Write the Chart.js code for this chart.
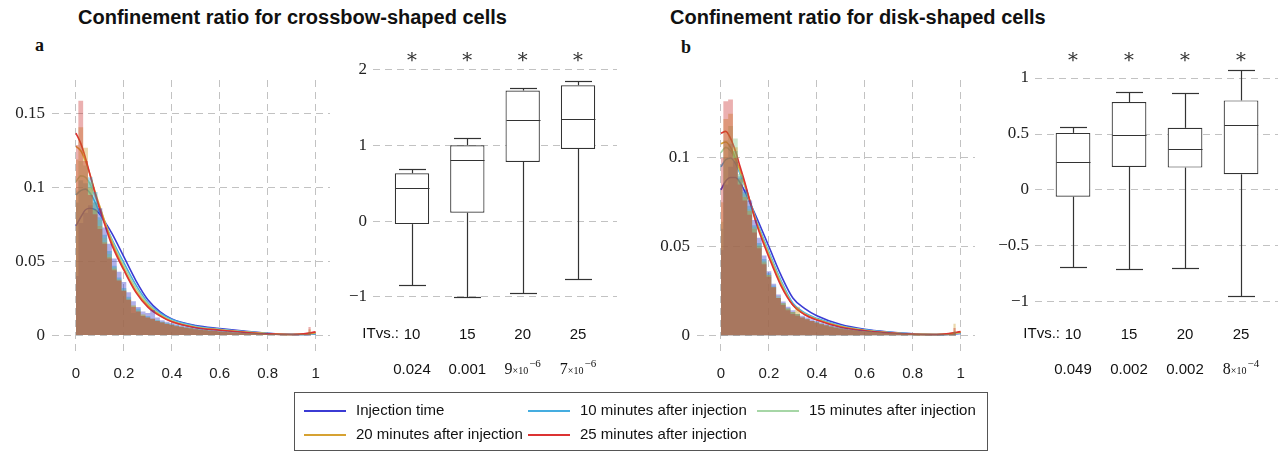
<!DOCTYPE html>
<html>
<head>
<meta charset="utf-8">
<script src="https://cdn.jsdelivr.net/npm/chart.js@4.4.0/dist/chart.umd.min.js"></script>
<style>
  body { margin: 0; background: #fff; width: 1278px; height: 453px; position: relative; overflow: hidden;
         font-family: "Liberation Sans", Arial, sans-serif; color: #111; }
  canvas { position: absolute; }
  .title { position: absolute; top: 5px; font-weight: bold; font-size: 20px; line-height: 25px; white-space: nowrap; }
  .tag { position: absolute; font-family: "Liberation Serif", serif; font-weight: bold; font-size: 18px; }
  #legend { position: absolute; left: 294px; top: 392px; width: 694px; height: 59px;
            border: 1px solid #555; box-sizing: border-box; }
  .item { position: absolute; font-size: 15px; line-height: 18px; white-space: nowrap; }
  .item i { display: inline-block; width: 42px; height: 2px; vertical-align: middle; margin-right: 10px; }
</style>
</head>
<body>
<div class="title" style="left:78px">Confinement ratio for crossbow-shaped cells</div>
<div class="title" style="left:670px">Confinement ratio for disk-shaped cells</div>
<div class="tag" style="left:35px;top:35px">a</div>
<div class="tag" style="left:681px;top:37px">b</div>

<canvas id="histA" width="335" height="400" style="left:0;top:0"></canvas>
<canvas id="boxA" width="290" height="400" style="left:335px;top:0"></canvas>
<canvas id="histB" width="340" height="400" style="left:640px;top:0"></canvas>
<canvas id="boxB" width="298" height="400" style="left:980px;top:0"></canvas>
<div id="legend"></div>

<script>
// ---- series ----
const seriesNames = ['Injection time', '10 minutes after injection', '15 minutes after injection',
                     '20 minutes after injection', '25 minutes after injection'];
const seriesColors = ['#3b3bd4', '#45ade0', '#a6d6a6', '#d6a232', '#dc3232'];
// darker shades used for the translucent histogram fills
const fillColors = ['#2828c8', '#1e96c8', '#78be78', '#c8961e', '#c82828'];

// ---- histogram bins (bin centres) and tick values ----
const binCenters = [0, 0.02, 0.04, 0.06, 0.08, 0.1, 0.12, 0.14, 0.16, 0.18, 0.2, 0.22, 0.24, 0.26, 0.28,
  0.3, 0.32, 0.34, 0.36, 0.38, 0.4, 0.42, 0.44, 0.46, 0.48, 0.5, 0.52, 0.54, 0.56, 0.58, 0.6, 0.62, 0.64,
  0.66, 0.68, 0.7, 0.72, 0.74, 0.76, 0.78, 0.8, 0.82, 0.84, 0.86, 0.88, 0.9, 0.92, 0.94, 0.96, 0.98];
const histXTicks = [0, 0.2, 0.4, 0.6, 0.8, 1];
const histAYTicks = [0, 0.05, 0.1, 0.15];
const histBYTicks = [0, 0.05, 0.1];

// crossbow-shaped cells: histograms
const histA_IT = [0.040, 0.076, 0.083, 0.088, 0.090, 0.086, 0.073, 0.062, 0.052, 0.043, 0.036, 0.029, 0.023, 0.019, 0.016, 0.015, 0.017, 0.012, 0.010, 0.009,
  0.0082, 0.0074, 0.0067, 0.006, 0.0054, 0.0049, 0.0044, 0.004, 0.0036, 0.0033, 0.003, 0.0027, 0.0025, 0.0022, 0.002, 0.0018, 0.0016, 0.0014, 0.0013, 0.0011,
  0.001, 0.0009, 0.0008, 0.0007, 0.0006, 0.0005, 0.0005, 0.0004, 0.0004, 0.001];
const histA_10 = [0.090, 0.105, 0.103, 0.107, 0.097, 0.080, 0.068, 0.057, 0.047, 0.039, 0.032, 0.026, 0.015, 0.018, 0.013, 0.013, 0.011, 0.010, 0.009, 0.008,
  0.0074, 0.0066, 0.0059, 0.0053, 0.0048, 0.0043, 0.0039, 0.0035, 0.0032, 0.0029, 0.0026, 0.0024, 0.0022, 0.002, 0.0018, 0.0016, 0.0014, 0.0012, 0.0011, 0.001,
  0.0009, 0.0008, 0.0007, 0.0006, 0.0005, 0.0005, 0.0004, 0.0004, 0.0005, 0.0015];
const histA_15 = [0.098, 0.118, 0.115, 0.104, 0.090, 0.078, 0.066, 0.055, 0.046, 0.038, 0.031, 0.025, 0.020, 0.017, 0.014, 0.012, 0.011, 0.010, 0.009, 0.008,
  0.0072, 0.0064, 0.0057, 0.0051, 0.0046, 0.0042, 0.0038, 0.0034, 0.0031, 0.0028, 0.0025, 0.0023, 0.0021, 0.0019, 0.0017, 0.0015, 0.0013, 0.0012, 0.001, 0.0009,
  0.0008, 0.0007, 0.0006, 0.0006, 0.0005, 0.0005, 0.0004, 0.0005, 0.0006, 0.002];
const histA_20 = [0.119, 0.141, 0.127, 0.100, 0.085, 0.074, 0.063, 0.053, 0.045, 0.037, 0.030, 0.024, 0.020, 0.016, 0.014, 0.012, 0.011, 0.0095, 0.0085, 0.0075,
  0.007, 0.0062, 0.0056, 0.005, 0.0046, 0.0041, 0.0037, 0.0033, 0.003, 0.0027, 0.0025, 0.0022, 0.002, 0.0018, 0.0016, 0.0014, 0.0013, 0.0011, 0.001, 0.0009,
  0.0008, 0.0007, 0.0006, 0.0006, 0.0005, 0.0004, 0.0004, 0.0005, 0.0007, 0.004];
const histA_25 = [0.129, 0.159, 0.118, 0.095, 0.082, 0.072, 0.062, 0.052, 0.044, 0.037, 0.030, 0.024, 0.019, 0.016, 0.013, 0.012, 0.011, 0.0095, 0.0085, 0.0075,
  0.0068, 0.006, 0.0055, 0.005, 0.0045, 0.004, 0.0036, 0.0033, 0.003, 0.0028, 0.0025, 0.0022, 0.002, 0.0018, 0.0016, 0.0014, 0.0012, 0.0011, 0.001, 0.0009,
  0.0008, 0.0007, 0.0006, 0.0005, 0.0005, 0.0004, 0.0004, 0.0005, 0.0008, 0.0055];

// disk-shaped cells: histograms
const histB_IT = [0.048, 0.085, 0.095, 0.098, 0.089, 0.082, 0.076, 0.065, 0.055, 0.045, 0.036, 0.029, 0.023, 0.019, 0.016, 0.014, 0.012, 0.011, 0.010, 0.009,
  0.008, 0.0072, 0.0064, 0.0057, 0.005, 0.0045, 0.004, 0.0036, 0.0032, 0.0029, 0.0026, 0.0023, 0.0021, 0.0019, 0.0017, 0.0015, 0.0013, 0.0012, 0.0011, 0.001,
  0.0009, 0.0008, 0.0007, 0.0006, 0.0005, 0.0005, 0.0004, 0.0004, 0.0005, 0.0012];
const histB_10 = [0.060, 0.100, 0.108, 0.104, 0.090, 0.081, 0.073, 0.062, 0.052, 0.043, 0.035, 0.028, 0.021, 0.018, 0.015, 0.013, 0.012, 0.010, 0.009, 0.008,
  0.0073, 0.0065, 0.0057, 0.005, 0.0044, 0.0039, 0.0035, 0.0031, 0.0028, 0.0025, 0.0022, 0.002, 0.0018, 0.0016, 0.0014, 0.0013, 0.0011, 0.001, 0.0009, 0.0008,
  0.0007, 0.0006, 0.0005, 0.0005, 0.0004, 0.0004, 0.0004, 0.0005, 0.0006, 0.0018];
const histB_15 = [0.064, 0.110, 0.118, 0.111, 0.091, 0.080, 0.071, 0.061, 0.051, 0.042, 0.034, 0.027, 0.022, 0.018, 0.015, 0.013, 0.012, 0.010, 0.009, 0.008,
  0.0072, 0.0064, 0.0056, 0.005, 0.0044, 0.0039, 0.0035, 0.0031, 0.0028, 0.0025, 0.0022, 0.002, 0.0018, 0.0016, 0.0014, 0.0013, 0.0011, 0.001, 0.0009, 0.0008,
  0.0007, 0.0006, 0.0005, 0.0005, 0.0004, 0.0004, 0.0004, 0.0005, 0.0007, 0.002];
const histB_20 = [0.075, 0.122, 0.125, 0.106, 0.088, 0.078, 0.070, 0.060, 0.050, 0.041, 0.034, 0.027, 0.021, 0.018, 0.015, 0.013, 0.016, 0.010, 0.009, 0.008,
  0.0071, 0.0063, 0.0056, 0.0049, 0.0043, 0.0038, 0.0034, 0.003, 0.0027, 0.0024, 0.0022, 0.002, 0.0018, 0.0016, 0.0014, 0.0012, 0.0011, 0.001, 0.0009, 0.0008,
  0.0007, 0.0006, 0.0005, 0.0005, 0.0004, 0.0004, 0.0004, 0.0005, 0.0009, 0.0065];
const histB_25 = [0.100, 0.132, 0.133, 0.100, 0.085, 0.076, 0.068, 0.058, 0.049, 0.040, 0.033, 0.027, 0.021, 0.017, 0.014, 0.012, 0.011, 0.010, 0.009, 0.008,
  0.007, 0.0062, 0.0055, 0.0048, 0.0042, 0.0037, 0.0033, 0.003, 0.0027, 0.0024, 0.0021, 0.0019, 0.0017, 0.0015, 0.0013, 0.0012, 0.0011, 0.001, 0.0009, 0.0008,
  0.0007, 0.0006, 0.0005, 0.0005, 0.0004, 0.0004, 0.0004, 0.0005, 0.0008, 0.004];

// density curves, sampled at kdeX
const kdeX = [0, 0.02, 0.04, 0.06, 0.08, 0.1, 0.12, 0.15, 0.2, 0.25, 0.3, 0.35, 0.4, 0.5, 0.6, 0.7, 0.8, 0.9, 0.95, 1];
const kdeA_IT = [0.074, 0.080, 0.085, 0.086, 0.085, 0.082, 0.077, 0.069, 0.053, 0.037, 0.024, 0.016, 0.011, 0.0065, 0.0045, 0.0028, 0.0013, 0.0005, 0.0004, 0.0007];
const kdeA_10 = [0.095, 0.098, 0.099, 0.096, 0.090, 0.083, 0.076, 0.065, 0.049, 0.034, 0.022, 0.015, 0.0105, 0.006, 0.004, 0.0024, 0.0011, 0.0004, 0.0004, 0.0009];
const kdeA_15 = [0.104, 0.108, 0.107, 0.102, 0.094, 0.086, 0.077, 0.064, 0.047, 0.032, 0.021, 0.014, 0.0098, 0.0055, 0.0037, 0.0022, 0.001, 0.0004, 0.0005, 0.0012];
const kdeA_20 = [0.128, 0.125, 0.118, 0.108, 0.097, 0.087, 0.077, 0.063, 0.045, 0.030, 0.020, 0.0135, 0.0093, 0.0052, 0.0035, 0.002, 0.0009, 0.0004, 0.0007, 0.0016];
const kdeA_25 = [0.137, 0.130, 0.120, 0.108, 0.096, 0.085, 0.075, 0.061, 0.044, 0.029, 0.019, 0.013, 0.009, 0.005, 0.0033, 0.0019, 0.0008, 0.0004, 0.0008, 0.0022];
const kdeB_IT = [0.082, 0.087, 0.089, 0.089, 0.086, 0.081, 0.075, 0.066, 0.050, 0.034, 0.021, 0.015, 0.011, 0.006, 0.0033, 0.0018, 0.0008, 0.0004, 0.0006, 0.001];
const kdeB_10 = [0.095, 0.099, 0.100, 0.097, 0.091, 0.084, 0.076, 0.064, 0.047, 0.031, 0.018, 0.0125, 0.0095, 0.0053, 0.003, 0.0016, 0.0007, 0.0004, 0.0006, 0.0012];
const kdeB_15 = [0.103, 0.106, 0.104, 0.099, 0.092, 0.084, 0.075, 0.063, 0.046, 0.030, 0.017, 0.012, 0.009, 0.005, 0.0028, 0.0015, 0.0006, 0.0004, 0.0007, 0.0014];
const kdeB_20 = [0.108, 0.109, 0.106, 0.100, 0.093, 0.085, 0.076, 0.063, 0.045, 0.029, 0.017, 0.0118, 0.0088, 0.0048, 0.0026, 0.0014, 0.0006, 0.0004, 0.0008, 0.0017];
const kdeB_25 = [0.114, 0.115, 0.111, 0.104, 0.095, 0.086, 0.076, 0.062, 0.044, 0.028, 0.017, 0.0115, 0.0085, 0.0045, 0.0025, 0.0013, 0.0005, 0.0004, 0.0009, 0.002];

// ---- box plots: IT vs. 10/15/20/25 minutes ----
const boxTimes = [10, 15, 20, 25];
const boxA_low  = [-0.84, -1.0, -0.95, -0.76];
const boxA_q1   = [-0.04, 0.11, 0.78, 0.95];
const boxA_med  = [0.43, 0.80, 1.33, 1.34];
const boxA_q3   = [0.63, 1.00, 1.72, 1.79];
const boxA_high = [0.68, 1.09, 1.76, 1.84];
const pValuesA  = [0.024, 0.001, 9e-6, 7e-6];
const boxAYTicks = [-1, 0, 1, 2];

const boxB_low  = [-0.69, -0.71, -0.70, -0.95];
const boxB_q1   = [-0.06, 0.205, 0.20, 0.14];
const boxB_med  = [0.25, 0.49, 0.37, 0.58];
const boxB_q3   = [0.51, 0.785, 0.555, 0.80];
const boxB_high = [0.56, 0.875, 0.87, 1.07];
const pValuesB  = [0.049, 0.002, 0.002, 8e-4];
const boxBYTicks = [-1, -0.5, 0, 0.5, 1];

// ---- helpers ----
const serif = '"Liberation Serif", "Times New Roman", serif';
const sans = '"Liberation Sans", Arial, sans-serif';
const gridColor = '#c2c2c2';

function alpha(hex, a) {
  const n = parseInt(hex.slice(1), 16);
  return `rgba(${n >> 16}, ${(n >> 8) & 255}, ${n & 255}, ${a})`;
}
function numLabel(v) {
  return v < 0 ? '\u2212' + Math.abs(v) : String(v);
}
function fixTicks(list) {
  return (scale) => { scale.ticks = list.map(v => ({ value: v })); };
}

function makeHist(id, hists, kdes, yMin, yMax, yTicks, yWidth) {
  const datasets = [];
  // histogram drawn as stepped translucent areas; lower order = drawn on top, so 25 min ends up topmost
  hists.forEach((h, i) => {
    datasets.push({
      type: 'line', order: 5 - i, stepped: 'middle', fill: 'origin',
      data: binCenters.map((x, k) => ({ x: x, y: h[k] })),
      backgroundColor: alpha(fillColors[i], 0.37), borderWidth: 0, pointRadius: 0
    });
  });
  kdes.forEach((d, i) => {
    datasets.push({
      type: 'line', order: 20 - i,
      data: kdeX.map((x, k) => ({ x: x, y: d[k] })),
      borderColor: seriesColors[i], borderWidth: 1.6, pointRadius: 0,
      cubicInterpolationMode: 'monotone', fill: false
    });
  });
  return new Chart(document.getElementById(id), {
    type: 'line',
    data: { datasets },
    options: {
      responsive: false, animation: false, devicePixelRatio: 1,
      layout: { padding: { top: 80, right: 5, left: 0, bottom: 0 } },
      plugins: { legend: { display: false }, tooltip: { enabled: false } },
      scales: {
        x: {
          type: 'linear', min: -0.1, max: 1.06, offset: false,
          afterBuildTicks: fixTicks(histXTicks),
          afterFit: (s) => { s.height = 45; },
          grid: { color: gridColor, drawTicks: false },
          border: { display: false, dash: [7, 5] },
          ticks: { padding: 10, color: '#222', font: { family: sans, size: 15 }, callback: numLabel }
        },
        y: {
          min: yMin, max: yMax,
          afterBuildTicks: fixTicks(yTicks),
          afterFit: (s) => { s.width = yWidth; },
          grid: { color: gridColor, drawTicks: false },
          border: { display: false, dash: [7, 5] },
          ticks: { padding: 7, color: '#222', font: { family: serif, size: 17 }, callback: numLabel }
        }
      }
    }
  });
}

function fmtP(v) {
  if (v >= 0.001) return { plain: v.toFixed(3) };
  const e = Math.floor(Math.log10(v));
  return { mant: String(Math.round(v / Math.pow(10, e))), exp: '\u2212' + Math.abs(e) };
}

const boxExtras = {
  id: 'boxExtras',
  afterDatasetsDraw(chart, args, o) {
    const { ctx } = chart;
    const xs = chart.scales.x, ys = chart.scales.y;
    ctx.save();
    ctx.strokeStyle = '#333';
    ctx.lineWidth = 1.2;
    const seg = (x1, y1, x2, y2) => { ctx.beginPath(); ctx.moveTo(x1, y1); ctx.lineTo(x2, y2); ctx.stroke(); };
    boxTimes.forEach((t, i) => {
      const x = Math.round(xs.getPixelForValue(t)) + 0.5;
      const yHi = Math.round(ys.getPixelForValue(o.high[i])) + 0.5;
      const yQ3 = ys.getPixelForValue(o.q3[i]);
      const yQ1 = ys.getPixelForValue(o.q1[i]);
      const yLo = Math.round(ys.getPixelForValue(o.low[i])) + 0.5;
      const yMed = Math.round(ys.getPixelForValue(o.med[i])) + 0.5;
      seg(x, yHi, x, yQ3);
      seg(x - o.cap, yHi, x + o.cap, yHi);
      seg(x, yQ1, x, yLo);
      seg(x - o.cap, yLo, x + o.cap, yLo);
      seg(x - o.half, yMed, x + o.half, yMed);
    });
    ctx.restore();
  },
  afterDraw(chart, args, o) {
    const { ctx } = chart;
    const xs = chart.scales.x;
    ctx.save();
    ctx.fillStyle = '#333';
    ctx.textBaseline = 'middle';
    // significance stars
    ctx.textAlign = 'center';
    ctx.font = '20px "DejaVu Serif", serif';
    boxTimes.forEach((t) => ctx.fillText('\u2217', xs.getPixelForValue(t), chart.chartArea.top - 4));
    // row label in front of the comparison times
    ctx.fillStyle = '#111';
    ctx.font = '15px ' + sans;
    ctx.textAlign = 'right';
    ctx.fillText('ITvs.:', xs.getPixelForValue(boxTimes[0]) - 13, o.rowY);
    // p-values
    o.p.forEach((v, i) => {
      const x = xs.getPixelForValue(boxTimes[i]);
      const f = fmtP(v);
      if (f.plain) {
        ctx.textAlign = 'center';
        ctx.font = '15px ' + sans;
        ctx.fillText(f.plain, x, o.pY);
      } else {
        ctx.textAlign = 'left';
        ctx.font = '16px ' + serif;
        const w1 = ctx.measureText(f.mant).width;
        ctx.font = '10px ' + serif;
        const w2 = ctx.measureText('\u00d710').width;
        ctx.font = '11px ' + serif;
        const w3 = ctx.measureText(f.exp).width;
        const x0 = x - (w1 + w2 + w3 + 1) / 2;
        ctx.font = '16px ' + serif;
        ctx.fillText(f.mant, x0, o.pY);
        ctx.font = '10px ' + serif;
        ctx.fillText('\u00d710', x0 + w1, o.pY + 1);
        ctx.font = '11px ' + serif;
        ctx.fillText(f.exp, x0 + w1 + w2 + 1, o.pY - 6);
      }
    });
    ctx.restore();
  }
};

function makeBox(id, low, q1, med, q3, high, pvals, yMin, yMax, yTicks, xMin, xMax, yWidth, padRight, xHeight, tickPad) {
  return new Chart(document.getElementById(id), {
    type: 'bar',
    data: {
      datasets: [{
        data: boxTimes.map((t, i) => ({ x: t, y: [q1[i], q3[i]] })),
        backgroundColor: '#ffffff', borderColor: '#333', borderWidth: 1.2,
        borderSkipped: false, barPercentage: 0.62, categoryPercentage: 1
      }]
    },
    plugins: [boxExtras],
    options: {
      responsive: false, animation: false, devicePixelRatio: 1,
      layout: { padding: { top: 62, right: padRight, left: 0, bottom: 0 } },
      plugins: {
        legend: { display: false }, tooltip: { enabled: false },
        boxExtras: { low, med, high, q1, q3, p: pvals, cap: 13.5, half: 17, rowY: 334, pY: 370 }
      },
      scales: {
        x: {
          type: 'linear', min: xMin, max: xMax, offset: false,
          afterBuildTicks: fixTicks(boxTimes),
          afterFit: (s) => { s.height = xHeight; },
          grid: { display: false },
          border: { display: false },
          ticks: { padding: tickPad, color: '#111', font: { family: sans, size: 15 } }
        },
        y: {
          min: yMin, max: yMax,
          afterBuildTicks: fixTicks(yTicks),
          afterFit: (s) => { s.width = yWidth; },
          grid: { color: gridColor, drawTicks: false },
          border: { display: false, dash: [7, 5] },
          ticks: { padding: 6, color: '#222', font: { family: serif, size: 17 }, callback: numLabel }
        }
      }
    }
  });
}

makeHist('histA', [histA_IT, histA_10, histA_15, histA_20, histA_25],
         [kdeA_IT, kdeA_10, kdeA_15, kdeA_20, kdeA_25], -0.0135, 0.173, histAYTicks, 52);
makeHist('histB', [histB_IT, histB_10, histB_15, histB_20, histB_25],
         [kdeB_IT, kdeB_10, kdeB_15, kdeB_20, kdeB_25], -0.0112, 0.144, histBYTicks, 57);
makeBox('boxA', boxA_low, boxA_q1, boxA_med, boxA_q3, boxA_high, pValuesA,
        -1.053, 2.096, boxAYTicks, 6.48, 28.52, 38, 8, 99, 17);
makeBox('boxB', boxB_low, boxB_q1, boxB_med, boxB_q3, boxB_high, pValuesB,
        -1.036, 1.143, boxBYTicks, 6.607, 28.3, 55, 0, 94, 12);

// ---- shared legend ----
const legendPos = [[9, 8], [233, 8], [462, 8], [9, 32], [233, 32]];
const legend = document.getElementById('legend');
seriesNames.forEach((name, i) => {
  const el = document.createElement('div');
  el.className = 'item';
  el.style.left = legendPos[i][0] + 'px';
  el.style.top = legendPos[i][1] + 'px';
  el.innerHTML = `<i style="background:${seriesColors[i]}"></i>${name}`;
  legend.appendChild(el);
});
</script>
</body>
</html>
